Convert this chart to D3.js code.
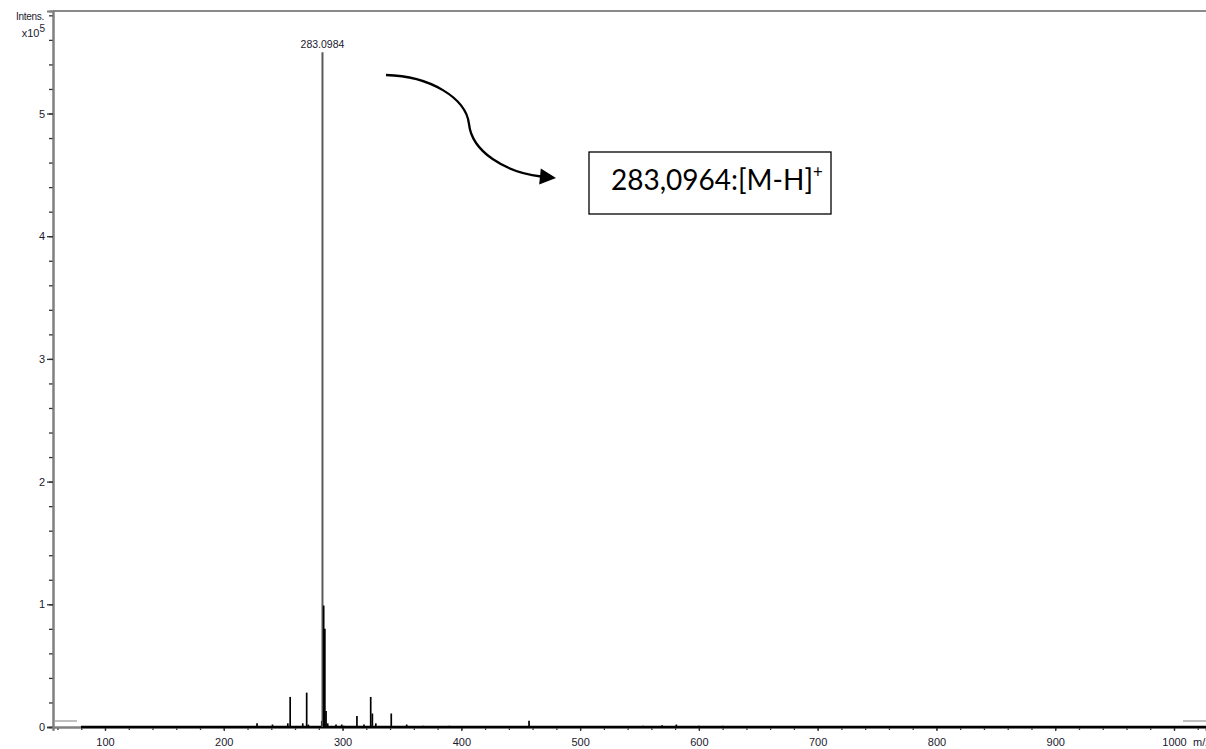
<!DOCTYPE html>
<html>
<head>
<meta charset="utf-8">
<script src="https://cdn.jsdelivr.net/npm/d3@7"></script>
<style>
  html, body { margin: 0; padding: 0; background: #fff; }
  svg { display: block; }
  text { font-family: "Liberation Sans", Arial, sans-serif; }
  text.annotation { font-family: Lato, "Open Sans", sans-serif; }
</style>
</head>
<body>
<svg id="chart" width="1206" height="749"></svg>
<script>
// Mass spectrum peaks: m/z and intensity (x10^5)
const peakMz = [228.0, 241.0, 253.9, 255.9, 266.5, 269.8, 271.2, 282.5, 283.0984, 284.1, 285.1, 286.1, 287.5,
  294.5, 299.3, 301.0, 312.1, 318.0, 323.7, 325.1, 328.0, 341.0, 354.0, 368.0, 390.0, 457.0, 553.0, 569.0, 581.0, 600.0, 620.0];
const peakIntensity = [0.03, 0.02, 0.03, 0.245, 0.03, 0.28, 0.02, 0.05, 5.50, 0.99, 0.80, 0.13, 0.03,
  0.02, 0.02, 0.01, 0.09, 0.02, 0.245, 0.11, 0.03, 0.11, 0.02, 0.01, 0.01, 0.05, 0.01, 0.015, 0.02, 0.01, 0.01];
const labelledMz = 283.0984;
const labelText = "283.0984";

// Axis ticks
const xMajorTicks = [100, 200, 300, 400, 500, 600, 700, 800, 900, 1000];
const xMinorTicks = d3.range(60, 1021, 20);
const yMajorTicks = [0, 1, 2, 3, 4, 5];
const yMinorTicks = d3.range(0, 5.81, 0.2);

// Acquired scan range of the trace
const traceRange = [79.8, 1030];

// Annotation
const annotationMain = "283,0964:[M-H]";
const annotationSup = "+";

const svg = d3.select("#chart");
const plotLeft = 53, plotRight = 1206, plotTop = 11, plotBottom = 727;
const labelColor = "#1a1a2e";

// m/z scale anchored on the 100 and 1000 tick positions
const xAnchor = d3.scaleLinear().domain([100, 1000]).range([105, 1174]);
const x = d3.scaleLinear()
  .domain([xAnchor.invert(plotLeft), xAnchor.invert(plotRight)])
  .range([plotLeft, plotRight]);
const yAnchor = d3.scaleLinear().domain([0, 5]).range([plotBottom, 113.5]);
const y = d3.scaleLinear()
  .domain([0, yAnchor.invert(plotTop)])
  .range([plotBottom, plotTop]);

// Frame top line
svg.append("line")
  .attr("x1", plotLeft).attr("x2", plotRight).attr("y1", plotTop).attr("y2", plotTop)
  .attr("stroke", "#8a8a8a").attr("stroke-width", 2);

// Small range markers near the baseline
svg.append("line").attr("x1", plotLeft + 2).attr("x2", 77).attr("y1", 721).attr("y2", 721)
  .attr("stroke", "#aaa").attr("stroke-width", 1.5);
svg.append("line").attr("x1", 1183).attr("x2", plotRight).attr("y1", 721).attr("y2", 721)
  .attr("stroke", "#aaa").attr("stroke-width", 1.5);

// Y axis: minor and major ticks
const yMinor = svg.append("g").attr("transform", `translate(${plotLeft},0)`)
  .call(d3.axisLeft(y).tickValues(yMinorTicks).tickSize(4).tickFormat(""));
const yMajor = svg.append("g").attr("transform", `translate(${plotLeft},0)`)
  .call(d3.axisLeft(y).tickValues(yMajorTicks).tickSize(6).tickPadding(2).tickFormat(d3.format("d")));
[yMinor, yMajor].forEach(g => {
  g.select(".domain").attr("stroke", "#808080").attr("stroke-width", 2);
  g.selectAll(".tick line").attr("stroke", "#333").attr("stroke-width", 1.3);
});
yMajor.selectAll(".tick text").attr("font-size", 11).attr("fill", labelColor);

// X axis
const xMinor = svg.append("g").attr("transform", `translate(0,${plotBottom})`)
  .call(d3.axisBottom(x).tickValues(xMinorTicks).tickSize(3).tickFormat(""));
const xMajor = svg.append("g").attr("transform", `translate(0,${plotBottom})`)
  .call(d3.axisBottom(x).tickValues(xMajorTicks).tickSize(4).tickPadding(7).tickFormat(d3.format("d")));
[xMinor, xMajor].forEach(g => {
  g.select(".domain").attr("stroke", "#808080").attr("stroke-width", 2);
  g.selectAll(".tick line").attr("stroke", "#333").attr("stroke-width", 1.3);
});
xMajor.selectAll(".tick text").attr("font-size", 11).attr("fill", labelColor);

// Axis unit, running off the right edge of the frame
svg.append("text").attr("x", 1193).attr("y", 746).attr("font-size", 11).attr("fill", labelColor)
  .text("m/z");

// Y axis title
svg.append("text").attr("x", 44).attr("y", 20).attr("text-anchor", "end")
  .attr("font-size", 10).attr("letter-spacing", -0.3).attr("fill", labelColor).text("Intens.");
const yt = svg.append("text").attr("x", 45).attr("y", 37).attr("text-anchor", "end")
  .attr("font-size", 11).attr("fill", labelColor);
yt.append("tspan").text("x10");
yt.append("tspan").attr("dy", -5).attr("font-size", 10).text("5");

// Trace baseline
svg.append("line")
  .attr("x1", x(traceRange[0])).attr("x2", x(traceRange[1]))
  .attr("y1", y(0)).attr("y2", y(0))
  .attr("stroke", "#000").attr("stroke-width", 2.4);

// Peaks as sticks
const peaks = peakMz.map((m, i) => ({ mz: m, v: peakIntensity[i] }));
svg.append("g").selectAll("line").data(peaks).join("line")
  .attr("x1", d => x(d.mz)).attr("x2", d => x(d.mz))
  .attr("y1", y(0)).attr("y2", d => y(d.v))
  .attr("stroke", d => d.mz === labelledMz ? "#5a5a5a" : "#000")
  .attr("stroke-width", d => d.mz === labelledMz ? 2 : 1.7);

// Peak label
svg.append("text")
  .attr("x", x(labelledMz)).attr("y", y(peakIntensity[peakMz.indexOf(labelledMz)]) - 4)
  .attr("text-anchor", "middle").attr("font-size", 10.5).attr("fill", labelColor)
  .text(labelText);

// Curved arrow annotation
svg.append("path")
  .attr("d", "M386,75 C430,76 466,98 469,124 C472,152 505,172 541,176.5")
  .attr("fill", "none").attr("stroke", "#000").attr("stroke-width", 2.3);
svg.append("path")
  .attr("d", "M556,178 L540.8,168.5 L539.2,184.5 Z")
  .attr("fill", "#000");

// Annotation box
svg.append("rect")
  .attr("x", 589).attr("y", 152).attr("width", 242).attr("height", 62)
  .attr("fill", "#fff").attr("stroke", "#000").attr("stroke-width", 1.3);
const ann = svg.append("text").attr("class", "annotation").attr("x", 611).attr("y", 190)
  .attr("font-size", 24).attr("fill", "#000");
ann.append("tspan").attr("class", "main").text(annotationMain);
// Fit the main text to its slot in the box
const mainW = ann.select(".main").node().getComputedTextLength();
const fs = 24 * 202 / mainW;
ann.attr("font-size", fs);
ann.append("tspan").attr("dy", -fs * 0.42).attr("font-size", fs * 0.6).text(annotationSup);
</script>
</body>
</html>
